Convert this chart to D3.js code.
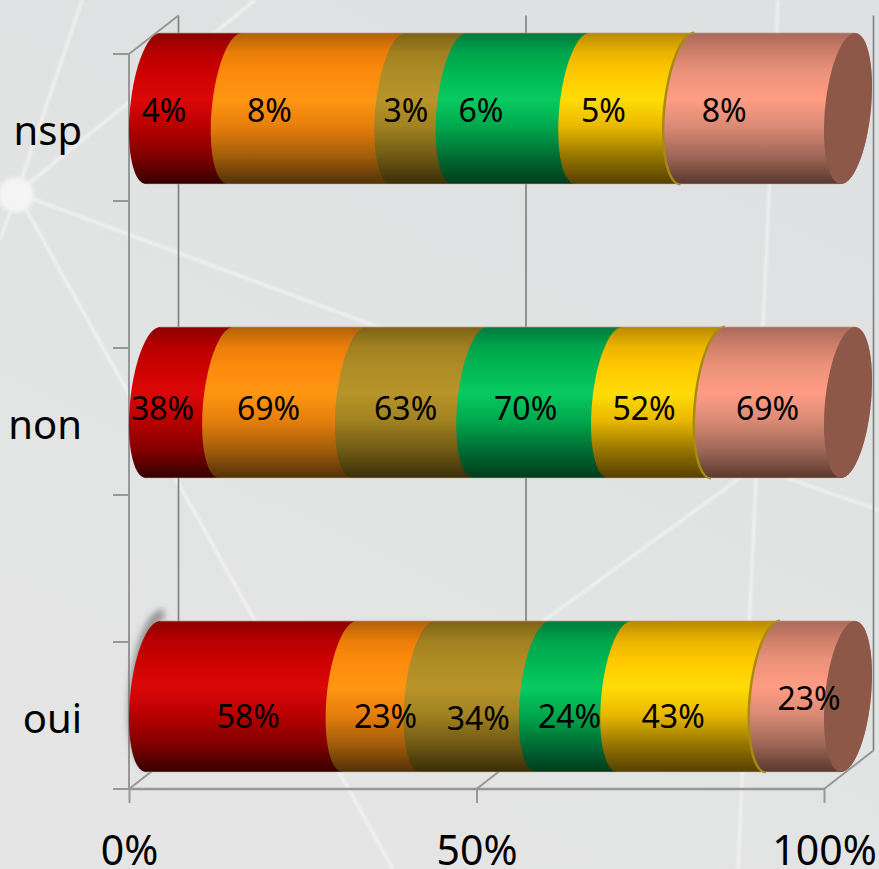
<!DOCTYPE html>
<html>
<head>
<meta charset="utf-8">
<script src="https://cdn.jsdelivr.net/npm/d3@7/dist/d3.min.js"></script>
<style>
html,body{margin:0;padding:0;background:#e2e3e4;overflow:hidden}
svg{display:block;font-family:"Noto Sans",sans-serif}
</style>
</head>
<body>
<svg id="c" width="879" height="869"></svg>
<script>
// ---- data ----
const categories = ["nsp", "non", "oui"];
const seriesRed    = [4, 38, 58];
const seriesOrange = [8, 69, 23];
const seriesOlive  = [3, 63, 34];
const seriesGreen  = [6, 70, 24];
const seriesYellow = [5, 52, 43];
const seriesSalmon = [8, 69, 23];
const xTicks = [0, 0.5, 1];

// ---- styling / layout ----
const seriesList = [seriesRed, seriesOrange, seriesOlive, seriesGreen, seriesYellow, seriesSalmon];
const stopsAt = [0, 0.13, 0.26, 0.44, 0.62, 0.82, 1];
const ramps = [
  ["#8c0000","#b80000","#cc0000","#dc0808","#b80000","#800000","#340000"],
  ["#b0600a","#ea7e08","#fd8a0c","#ff9612","#e67e0c","#a05c0a","#523008"],
  ["#7d6216","#a08020","#ae8c26","#b8942a","#a0821f","#6e5814","#3a2e08"],
  ["#007a3c","#00a44a","#00b652","#08ca60","#00a84c","#006c34","#003c1c"],
  ["#b88a00","#ebb400","#ffc800","#ffdc06","#e8b800","#957400","#544000"],
  ["#a96a5a","#d0806a","#ec927a","#ff9c84","#d98a74","#9c6656","#5a382e"]
];
const capColor = "#8e5848";
const rimColor = "#a98a10";
const salmonInset = 4;
// hand placement of the value labels, relative to each segment's centre (px): rows follow categories
const labelDx = [[-6,-23,1,-16,-6,-18],[-3,0,10,2,3,10],[21,21,17,10,0,24]];
const labelDy = [[13.5,13.5,13.5,13.5,13.5,13.5],[17.5,17.5,17.5,17.5,17.5,17.5],[31,31,33,31,31,13]];

const W = 879, H = 869;
const x = d3.scaleLinear().domain([0,1]).range([129,824]);
const y = d3.scalePoint().domain(categories).range([127.5,715.5]);
const depthX = 49.5, depthY = -38.5;
const axisY = 789, halfBand = 73.5;
const capAx = 23, capBx = 7, capBy = 75.5;

const svg = d3.select("#c");
const defs = svg.append("defs");

// background
const bg = defs.append("linearGradient").attr("id","bg").attr("x1",0.7).attr("y1",0).attr("x2",0.2).attr("y2",1);
bg.append("stop").attr("offset",0).attr("stop-color","#dfe0e1");
bg.append("stop").attr("offset",0.55).attr("stop-color","#e2e3e3");
bg.append("stop").attr("offset",1).attr("stop-color","#e5e5e5");
svg.append("rect").attr("width",W).attr("height",H).attr("fill","url(#bg)");
defs.append("filter").attr("id","soft").append("feGaussianBlur").attr("stdDeviation",0.9);
defs.append("filter").attr("id","smudge").attr("x","-80%").attr("y","-20%").attr("width","260%").attr("height","140%")
    .append("feGaussianBlur").attr("stdDeviation",3.4);
const glow = defs.append("radialGradient").attr("id","glow");
glow.append("stop").attr("offset",0).attr("stop-color","#f6f6f6");
glow.append("stop").attr("offset",0.7).attr("stop-color","#f4f4f4");
glow.append("stop").attr("offset",1).attr("stop-color","#f0f0f0").attr("stop-opacity",0);

// faint network drawn in the backdrop
const networkLines = [
  [[17,193],[82,0],3],[[17,193],[255,0],3.2],[[17,193],[0,240],2.8],
  [[17,193],[755,467],3],[[17,193],[393,869],3.2],
  [[778,0],[738,869],3],[[755,467],[350,762],2.8],[[755,467],[879,510],2.8]
];
const net = svg.append("g").attr("filter","url(#soft)");
net.selectAll("line").data(networkLines).join("line")
  .attr("x1",d=>d[0][0]).attr("y1",d=>d[0][1]).attr("x2",d=>d[1][0]).attr("y2",d=>d[1][1])
  .attr("stroke","#f6f6f6").attr("stroke-opacity",0.7).attr("stroke-width",d=>d[2]);
svg.append("circle").attr("cx",16).attr("cy",195).attr("r",21).attr("fill","url(#glow)");

// back wall gridlines
svg.append("g").selectAll("line").data(xTicks).join("line")
  .attr("x1",d=>x(d)+depthX).attr("x2",d=>x(d)+depthX)
  .attr("y1",axisY+depthY-735).attr("y2",axisY+depthY)
  .attr("stroke","#7d7d7d").attr("stroke-width",1.6);

// floor + wall diagonals
const frame = svg.append("g").attr("stroke","#979797").attr("stroke-width",2).attr("fill","none");
frame.selectAll("line.floor").data(xTicks).join("line").attr("class","floor")
  .attr("x1",d=>x(d)).attr("y1",axisY).attr("x2",d=>x(d)+depthX).attr("y2",axisY+depthY);
frame.append("line").attr("x1",x(0)).attr("y1",axisY-735).attr("x2",x(0)+depthX).attr("y2",axisY-735+depthY);
frame.append("line").attr("x1",x(0)).attr("y1",axisY-735).attr("x2",x(0)).attr("y2",axisY);
// category-axis ticks
const catTicks = categories.flatMap(c=>[y(c)-halfBand,y(c)+halfBand]);
frame.selectAll("line.ct").data(catTicks).join("line").attr("class","ct")
  .attr("x1",x(0)-16).attr("x2",x(0)).attr("y1",d=>d).attr("y2",d=>d);

// axes
const xAxis = d3.axisBottom(x).tickValues(xTicks).tickFormat(d3.format(".0%")).tickSize(14);
const gx = svg.append("g").attr("transform",`translate(0,${axisY})`).call(xAxis);
gx.select(".domain").attr("stroke","#979797").attr("stroke-width",2.4).attr("d",`M${x(0)},0H${x(1)}`);
gx.selectAll(".tick line").attr("stroke","#979797").attr("stroke-width",2);
gx.selectAll(".tick text").attr("y",76).attr("dy",0).attr("fill","#000").style("font-size","41px").style("font-family",'"Noto Sans",sans-serif');

const yAxis = d3.axisLeft(y).tickSize(0).tickPadding(47);
const gy = svg.append("g").attr("transform",`translate(${x(0)},0)`).call(yAxis);
gy.select(".domain").remove();
gy.selectAll(".tick text").attr("dy",16.5).attr("fill","#000").style("font-size","40px").style("font-family",'"Noto Sans",sans-serif');

// cylinder geometry
const rad = d3.scaleLinear().domain([0,180]).range([0,Math.PI]);
const angL = d3.range(90,271,6), angR = d3.range(270,451,6);
const pt = (vx,cy,a,dx=0)=>[x(vx)+dx+24+capAx*Math.cos(rad(a))+capBx*Math.sin(rad(a)), cy-capBy*Math.sin(rad(a))];
const line = d3.line();
ramps.forEach((r,i)=>{
  const g = defs.append("linearGradient").attr("id","g"+i).attr("x1",0).attr("y1",0).attr("x2",0).attr("y2",1);
  stopsAt.forEach((o,k)=>g.append("stop").attr("offset",o).attr("stop-color",r[k]));
});

// smudge by the last bar
const lastCy = y("oui")-19;
svg.append("path").attr("d",line(angL.map(a=>{const p=pt(0,lastCy,a);return [p[0]+4,p[1]-7];})))
  .attr("fill","none").attr("stroke","#5f5f5f").attr("stroke-width",10).attr("stroke-opacity",0.6).attr("filter","url(#smudge)");

const bars = svg.append("g");
const labels = [];
categories.forEach((c,row)=>{
  const cy = y(c)-19;
  const vals = seriesList.map(s=>s[row]);
  const total = d3.sum(vals);
  const cum = d3.cumsum(vals).map(v=>v/total);
  const g = bars.append("g");
  vals.forEach((v,i)=>{
    const a = i?cum[i-1]:0, b = cum[i];
    const inset = i===5 ? salmonInset : 0;
    g.append("path")
      .attr("d",line(angL.map(t=>pt(a,cy,t,inset)).concat(angR.map(t=>pt(b,cy,t))))+"Z")
      .attr("fill",`url(#g${i})`);
    if(i===5){
      // dark-gold rim left of the salmon segment, drawn under it
      g.insert("path",":last-child").attr("d",line(angL.map(t=>pt(a,cy,t,inset-1))))
        .attr("fill","none").attr("stroke",rimColor).attr("stroke-width",3);
    }
    labels.push({txt:v+"%",x:(x(a)+x(b))/2+labelDx[row][i],y:cy+labelDy[row][i]});
  });
  // thin highlight along top and bottom edge
  g.append("path").attr("d",line([pt(0,cy,90),pt(1,cy,90)])).attr("stroke","#b89a90").attr("stroke-opacity",0.7).attr("stroke-width",1);
  g.append("path").attr("d",line([pt(0,cy,270),pt(1,cy,270)])).attr("stroke","#c8b8a8").attr("stroke-opacity",0.5).attr("stroke-width",1);
  // end cap
  g.append("path").attr("d",line(d3.range(0,361,6).map(t=>pt(1,cy,t)))+"Z").attr("fill",capColor);
});

svg.append("g").selectAll("text").data(labels).join("text")
  .attr("x",d=>d.x).attr("y",d=>d.y).attr("text-anchor","middle")
  .attr("fill","#000").style("font-size","32px").text(d=>d.txt);
</script>
</body>
</html>
